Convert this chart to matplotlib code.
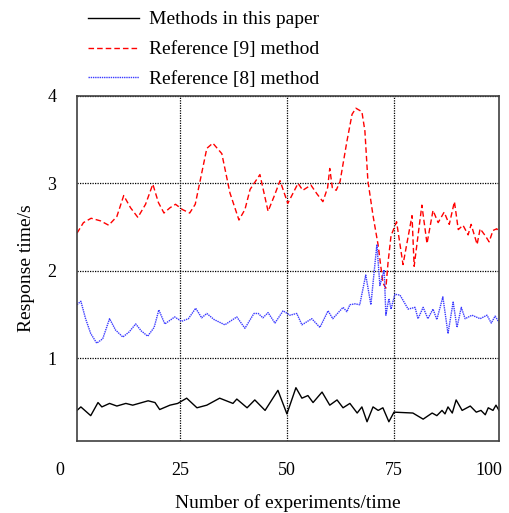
import matplotlib
matplotlib.use('Agg')
import matplotlib.pyplot as plt

# values
x_ours = [1, 1.9, 4.2, 5.9, 6.8, 8.6, 10.3, 12.4, 14, 17.6, 19.2, 20.3, 22.7, 24.5, 26.6,
          29, 31.3, 34.3, 37.4, 38.3, 40.7, 42.5, 44.9, 47.9, 50, 52.1, 53.5, 54.9, 56.1, 58.2,
          60, 61.7, 63.1, 64.7, 66.4, 67.5, 68.7, 70.1, 71.3, 72.4, 73.8, 75, 79.4, 81.8, 83.9,
          85, 86.2, 86.9, 87.6, 88.6, 89.5, 90.9, 92.8, 94.2, 95.3, 96.3, 97, 98.1, 98.8, 99.5]
y_ours = [0.40, 0.44, 0.34, 0.49, 0.44, 0.48, 0.45, 0.48, 0.46, 0.51, 0.49, 0.41, 0.46, 0.48, 0.54,
          0.43, 0.46, 0.54, 0.48, 0.53, 0.43, 0.52, 0.40, 0.63, 0.36, 0.66, 0.54, 0.57, 0.49, 0.61,
          0.46, 0.52, 0.43, 0.48, 0.37, 0.44, 0.27, 0.44, 0.40, 0.43, 0.27, 0.38, 0.37, 0.30, 0.37,
          0.34, 0.40, 0.36, 0.44, 0.37, 0.52, 0.40, 0.45, 0.38, 0.40, 0.35, 0.43, 0.40, 0.46, 0.40]

x_ref9 = [1, 2.5, 4.3, 6.5, 8.4, 10.3, 11.9, 13.5, 15.2, 17, 18.7, 20, 21.3, 22.7, 24,
          25.6, 27.3, 28.6, 29.7, 31.3, 32.7, 34.8, 36.7, 38.8, 40.2, 41.4, 43.7, 45.6, 47, 48.4,
          50.2, 52.6, 53.7, 55.6, 57, 58.4, 59.5, 60, 60.6, 61.5, 62.4, 64, 65.2, 66.1, 67.5,
          68.2, 68.9, 70.1, 71.3, 72.4, 73.1, 73.6, 74.3, 75.6, 77.1, 79.2, 79.7, 81.5, 82.7, 84.1,
          85.3, 86.7, 87.9, 89.1, 90, 91.1, 92.3, 93, 94.4, 95.1, 96.3, 97.2, 98.1, 99, 99.5]
y_ref9 = [2.43, 2.55, 2.6, 2.57, 2.52, 2.62, 2.86, 2.72, 2.61, 2.76, 2.99, 2.78, 2.66, 2.72, 2.76,
          2.7, 2.66, 2.76, 3.02, 3.4, 3.46, 3.34, 2.89, 2.58, 2.7, 2.93, 3.1, 2.68, 2.85, 3.03,
          2.77, 3.0, 2.92, 2.98, 2.88, 2.79, 2.95, 3.17, 2.95, 2.92, 3.02, 3.48, 3.79, 3.86, 3.82,
          3.6, 3.03, 2.63, 2.29, 1.86, 1.8, 2.09, 2.4, 2.56, 2.07, 2.63, 2.05, 2.75, 2.31, 2.69,
          2.55, 2.67, 2.53, 2.79, 2.47, 2.52, 2.41, 2.53, 2.3, 2.48, 2.4, 2.33, 2.46, 2.48, 2.43]

x_ref8 = [1, 1.9, 3, 4.2, 5.6, 7, 8.6, 10, 11.7, 13.2, 14.7, 16, 17.5, 19, 20.1,
          21.5, 23.8, 25.4, 27, 28.7, 30.1, 31.3, 33, 35.5, 38.3, 40.2, 42.3, 43.3, 44.4, 45.6,
          47.2, 49.1, 50.7, 52.3, 53.5, 55.8, 57.7, 59.6, 60.7, 63.1, 64, 64.7, 65.9, 67, 68.4,
          69.6, 71, 71.7, 72.7, 73.1, 73.8, 74.3, 75.2, 76.4, 78.3, 79.9, 80.6, 81.8, 82.9, 84.1,
          85, 86.4, 87.6, 88.8, 89.7, 90.7, 91.6, 93.2, 95.1, 96.7, 97.7, 98.6, 99.5]
y_ref8 = [1.61, 1.65, 1.45, 1.28, 1.17, 1.22, 1.45, 1.32, 1.24, 1.3, 1.39, 1.31, 1.25, 1.35, 1.55,
          1.39, 1.47, 1.42, 1.45, 1.57, 1.46, 1.51, 1.44, 1.38, 1.47, 1.34, 1.51, 1.51, 1.46, 1.52,
          1.40, 1.54, 1.49, 1.51, 1.38, 1.45, 1.35, 1.54, 1.45, 1.58, 1.53, 1.61, 1.62, 1.61, 1.95,
          1.61, 2.3, 1.83, 2.01, 1.49, 1.68, 1.56, 1.73, 1.72, 1.56, 1.58, 1.45, 1.58, 1.45, 1.56,
          1.44, 1.70, 1.28, 1.64, 1.35, 1.58, 1.45, 1.49, 1.45, 1.49, 1.40, 1.48, 1.41]

series_labels = ['Methods in this paper', 'Reference [9] method', 'Reference [8] method']
x_grid = [25, 50, 75]
y_ticks = [1, 2, 3, 4]

plt.rcParams['font.family'] = ['Liberation Serif', 'DejaVu Serif']

fig = plt.figure(figsize=(5.09, 5.13), dpi=100)
ax = fig.add_axes([0.1513, 0.1404, 0.829, 0.6725])

ax.plot(x_ours, y_ours, color='black', lw=1.0, label=series_labels[0])
ax.plot(x_ref9, y_ref9, color='#ff0000', lw=1.0, linestyle=(0, (4, 2.2)), label=series_labels[1])
ax.plot(x_ref8, y_ref8, color='#3a3aff', lw=1.0, linestyle=(0, (1, 0.6)), label=series_labels[2])

ax.set_xlim(1, 99.5)
ax.set_ylim(0.05, 4)

ax.set_xticks(x_grid)
ax.set_xticklabels([str(v) for v in x_grid])
ax.set_yticks(y_ticks)
ax.set_yticklabels([str(v) for v in y_ticks])
ax.tick_params(axis='both', length=0, labelsize=13)
ax.tick_params(axis='x', pad=15)
ax.tick_params(axis='y', pad=15)
ax.grid(True, color='black', linestyle=(0, (1, 1)), linewidth=0.9)

# end labels that sit outside the gridded ticks
ax.text(-3.0, -0.062, '0', transform=ax.get_xaxis_transform(), ha='center', va='top', fontsize=13)
ax.text(97.2, -0.062, '100', transform=ax.get_xaxis_transform(), ha='center', va='top', fontsize=13)

for s in ax.spines.values():
    s.set_color('#404040')
    s.set_linewidth(1.2)

ax.set_xlabel('Number of experiments/time', fontsize=14, labelpad=11)
ax.set_ylabel('Response time/s', fontsize=14, labelpad=9)

ax.legend(loc='lower left', bbox_to_anchor=(0.008, 1.0), frameon=False, fontsize=14,
          handlelength=2.6, handletextpad=0.55, labelspacing=0.63, borderpad=0.4,
          borderaxespad=0.0)

plt.savefig('out.png', dpi=100)
